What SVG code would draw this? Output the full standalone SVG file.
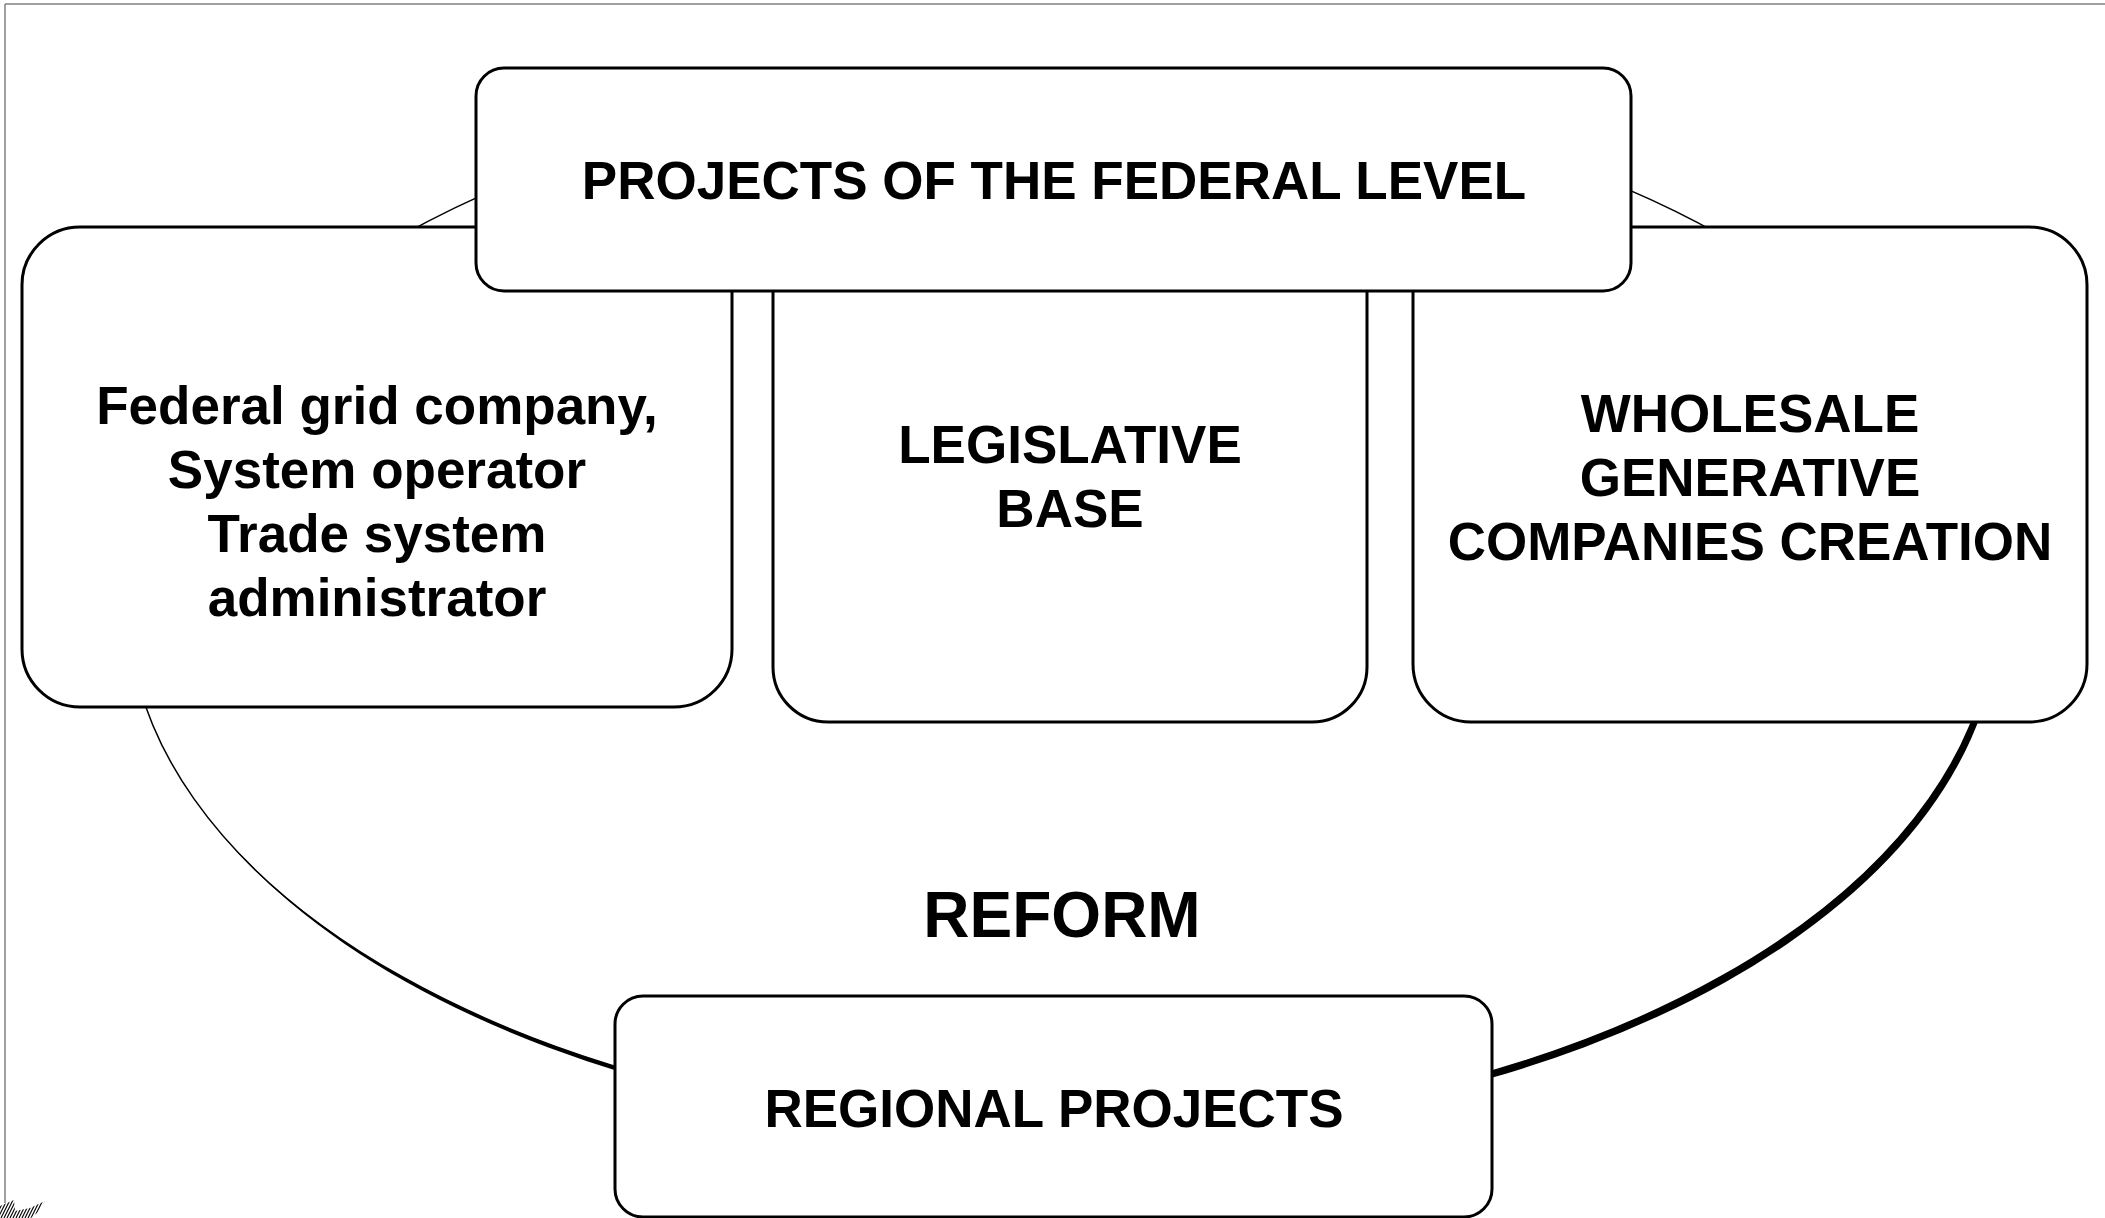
<svg xmlns="http://www.w3.org/2000/svg" width="2105" height="1218" viewBox="0 0 2105 1218">
  <style>
    .box { fill: #ffffff; stroke: #000000; stroke-width: 3; }
    .lbl { font-family: "Liberation Sans", Arial, sans-serif; font-weight: bold; font-size: 53px; fill: #000000; text-anchor: middle; }
    .big { font-size: 64px; }
    .frame { stroke: #808080; stroke-width: 1.5; fill: none; }
    .hl { stroke: #000000; stroke-width: 1.1; }
  </style>
  <defs>
    <clipPath id="scrib">
      <path d="M0,1218 L0,1206 L14,1200 L15,1211 L30,1208 L45,1201 L37,1213 L31,1218 Z"/>
    </clipPath>
  </defs>
  <rect width="2105" height="1218" fill="#ffffff"/>
  <g id="frame">
    <line class="frame" x1="5" y1="4" x2="2105" y2="4"/>
    <line class="frame" x1="5" y1="4" x2="5" y2="1203"/>
    <g clip-path="url(#scrib)">
      <line class="hl" x1="-8" y1="1218" x2="2" y2="1198"/>
      <line class="hl" x1="-5" y1="1218" x2="5" y2="1198"/>
      <line class="hl" x1="-2" y1="1218" x2="8" y2="1198"/>
      <line class="hl" x1="1" y1="1218" x2="11" y2="1198"/>
      <line class="hl" x1="4" y1="1218" x2="14" y2="1198"/>
      <line class="hl" x1="7" y1="1218" x2="17" y2="1198"/>
      <line class="hl" x1="10" y1="1218" x2="20" y2="1198"/>
      <line class="hl" x1="13" y1="1218" x2="23" y2="1198"/>
      <line class="hl" x1="16" y1="1218" x2="26" y2="1198"/>
      <line class="hl" x1="19" y1="1218" x2="29" y2="1198"/>
      <line class="hl" x1="22" y1="1218" x2="32" y2="1198"/>
      <line class="hl" x1="25" y1="1218" x2="35" y2="1198"/>
      <line class="hl" x1="28" y1="1218" x2="38" y2="1198"/>
      <line class="hl" x1="31" y1="1218" x2="41" y2="1198"/>
      <line class="hl" x1="34" y1="1218" x2="44" y2="1198"/>
      <line class="hl" x1="37" y1="1218" x2="47" y2="1198"/>
    </g>
  </g>
  <g id="connectors">
    <ellipse cx="1066" cy="611.5" rx="933" ry="524" fill="#000000"/>
    <ellipse cx="1061.5" cy="606" rx="933" ry="524" fill="#ffffff" stroke="#000000" stroke-width="1.5"/>
  </g>
  <g id="node-left">
    <rect class="box" x="22" y="227" width="710" height="480" rx="58" ry="58"/>
    <text class="lbl" x="377" y="424">Federal grid company,</text>
    <text class="lbl" x="377" y="488">System operator</text>
    <text class="lbl" x="377" y="552">Trade system</text>
    <text class="lbl" x="377" y="616">administrator</text>
  </g>
  <g id="node-middle">
    <rect class="box" x="773" y="227" width="594" height="495" rx="55" ry="55"/>
    <text class="lbl" x="1070" y="463">LEGISLATIVE</text>
    <text class="lbl" x="1070" y="527">BASE</text>
  </g>
  <g id="node-right">
    <rect class="box" x="1413" y="227" width="674" height="495" rx="58" ry="58"/>
    <text class="lbl" x="1750" y="432">WHOLESALE</text>
    <text class="lbl" x="1750" y="496">GENERATIVE</text>
    <text class="lbl" x="1750" y="560">COMPANIES CREATION</text>
  </g>
  <g id="node-top">
    <rect class="box" x="476" y="68" width="1155" height="223" rx="28" ry="28"/>
    <text class="lbl" x="1054" y="199">PROJECTS OF THE FEDERAL LEVEL</text>
  </g>
  <g id="node-reform">
    <text class="lbl big" x="1062" y="937">REFORM</text>
  </g>
  <g id="node-bottom">
    <rect class="box" x="615" y="996" width="877" height="221" rx="28" ry="28"/>
    <text class="lbl" x="1054" y="1127">REGIONAL PROJECTS</text>
  </g>
</svg>
